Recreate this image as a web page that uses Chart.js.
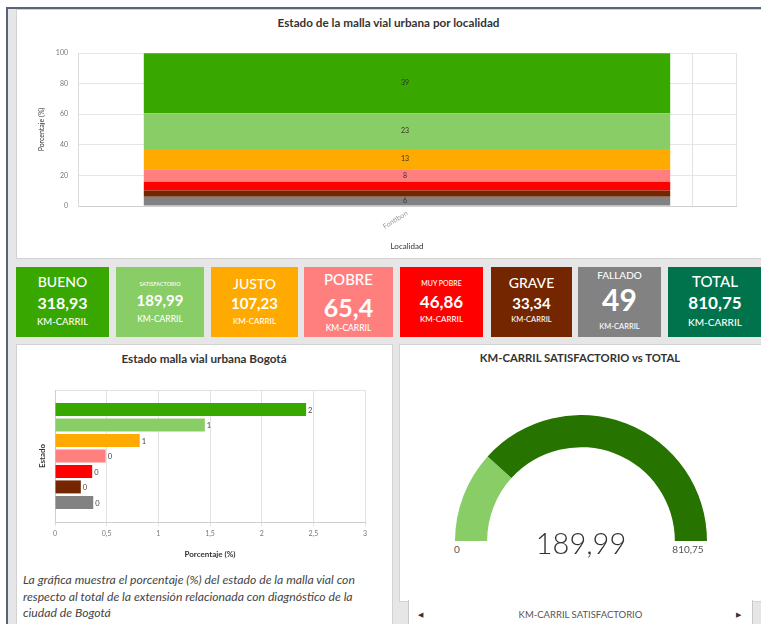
<!DOCTYPE html>
<html>
<head>
<meta charset="utf-8">
<script src="https://cdn.jsdelivr.net/npm/chart.js@4.4.0/dist/chart.umd.min.js"></script>
<style>
html, body { margin: 0; padding: 0; background: #fff; width: 761px; height: 624px; overflow: hidden; font-family: Lato, "Open Sans", sans-serif; }
#marco { position: absolute; left: 6px; top: 7px; width: 760px; height: 620px; background: #e6e6e6; border-top: 2px solid #56647a; border-left: 2px solid #56647a; }
.panel { position: absolute; background: #fff; border: 1px solid #d2d2d2; box-sizing: border-box; }
.titulo { position: absolute; font-weight: bold; font-size: 11.7px; color: #333; text-align: center; white-space: nowrap; line-height: 12px; }
.tarjeta { position: absolute; top: 267px; height: 70px; color: #fff; }
.tarjeta div { position: absolute; left: 0; right: 0; text-align: center; white-space: nowrap; line-height: 1; }
canvas { position: absolute; }
.txt { position: absolute; white-space: nowrap; line-height: 1; }
#nota { position: absolute; left: 23px; top: 572px; font-style: italic; font-size: 12.2px; line-height: 16.5px; color: #444; white-space: nowrap; }
#pestana { position: absolute; left: 408px; top: 600px; width: 345px; height: 30px; background: #fff; border-left: 1px solid #c8c8c8; border-right: 1px solid #c8c8c8; box-sizing: border-box; }
</style>
</head>
<body>
<div id="marco"></div>

<div class="panel" style="left:16px;top:9px;width:746px;height:250px;"></div>
<div class="titulo" style="left:16px;width:745px;top:16px;">Estado de la malla vial urbana por localidad</div>
<canvas id="pilaLocalidad" width="745" height="248" style="left:16px;top:10px;"></canvas>

<div id="tarjetas"></div>

<div class="panel" style="left:16px;top:344px;width:377px;height:290px;"></div>
<div class="titulo" style="left:16px;width:376px;top:352px;">Estado malla vial urbana Bogotá</div>
<canvas id="barrasBogota" width="376" height="220" style="left:16px;top:344px;"></canvas>
<div id="nota">La gráfica muestra el porcentaje (%) del estado de la malla vial con<br>respecto al total de la extensión relacionada con diagnóstico de la<br>ciudad de Bogotá</div>

<div class="panel" style="left:399px;top:344px;width:363px;height:258px;"></div>
<div class="titulo" style="left:399px;width:362px;top:352px;font-size:11.3px;">KM-CARRIL SATISFACTORIO vs TOTAL</div>
<canvas id="medidor" width="252" height="126" style="left:455px;top:415px;"></canvas>
<div class="txt" id="gMin" style="left:437px;width:40px;top:544px;font-size:10px;color:#555;text-align:center;"></div>
<div class="txt" id="gMax" style="left:658px;width:60px;top:544px;font-size:10px;color:#555;text-align:center;"></div>
<div class="txt" id="gValor" style="left:511px;width:140px;top:528px;font-size:29px;font-weight:300;color:#333;text-align:center;"></div>
<div id="pestana">
  <div class="txt" style="left:9px;top:11px;font-size:7px;color:#333;">&#9664;</div>
  <div class="txt" id="pestanaTxt" style="left:0;width:343px;top:10px;font-size:9.5px;color:#555;text-align:center;"></div>
  <div class="txt" style="left:327px;top:11px;font-size:7px;color:#333;">&#9654;</div>
</div>

<script>
// datos
const estados = ['Bueno', 'Satisfactorio', 'Justo', 'Pobre', 'Muy pobre', 'Grave', 'Fallado'];
const etiquetasTarjeta = ['BUENO', 'SATISFACTORIO', 'JUSTO', 'POBRE', 'MUY POBRE', 'GRAVE', 'FALLADO', 'TOTAL'];
const colores = ['#38a800', '#89cd66', '#ffaa00', '#ff7f7f', '#ff0000', '#732600', '#828282'];
const colorTotal = '#00734c';
const kmCarril = [318.93, 189.99, 107.23, 65.4, 46.86, 33.34, 49];
const kmTotal = 810.75;
const unidad = 'KM-CARRIL';
const localidades = ['Fontibon'];
const pctLocalidad = [39.3, 23.4, 13.2, 8.1, 5.8, 4.1, 6.0];
const pctBogota = [2.43, 1.45, 0.82, 0.49, 0.36, 0.25, 0.37];
const ticksPorcentaje = [0, 20, 40, 60, 80, 100];
const ticksBogota = [0, 0.5, 1, 1.5, 2, 2.5, 3];

const coma = v => String(v).replace('.', ',');

// tarjetas: [left, width, tamEtiqueta, tamValor, tamUnidad, yEtiqueta, yValor, yUnidad]
const formaTarjeta = [
  [16, 93, 14, 16, 9.5, 15, 35.5, 55],
  [116, 88, 5.5, 15, 8.5, 17.5, 33.5, 52],
  [211, 87, 14, 15, 8, 16.5, 36.5, 54],
  [304, 89, 15, 25, 8.5, 12, 40, 61],
  [400, 83, 7, 17, 8, 16, 34, 52],
  [491, 81, 14, 15, 7.5, 16, 36.5, 53],
  [578, 83, 10, 30, 7.5, 8, 32, 60],
  [668, 94, 15, 17, 10, 14, 35.5, 54.5]
];
const valoresTarjeta = kmCarril.concat([kmTotal]);
const coloresTarjeta = colores.concat([colorTotal]);
let html = '';
formaTarjeta.forEach((f, i) => {
  const linea = (txt, s, cy, w) => `<div style="top:${cy - s / 2}px;font-size:${s}px;font-weight:${w};">${txt}</div>`;
  html += `<div class="tarjeta" style="left:${f[0]}px;width:${f[1]}px;background:${coloresTarjeta[i]};">` +
    linea(etiquetasTarjeta[i], f[2], f[5], 500) +
    linea(coma(valoresTarjeta[i]), f[3], f[6], 700) +
    linea(unidad, f[4], f[7], 500) + '</div>';
});
document.getElementById('tarjetas').innerHTML = html;

Chart.defaults.font.family = 'Lato, "Open Sans", sans-serif';
Chart.defaults.animation = false;

const etiquetasPila = {
  id: 'etiquetasPila',
  afterDatasetsDraw(chart) {
    const ctx = chart.ctx;
    ctx.save();
    ctx.font = '7px Lato';
    ctx.fillStyle = '#333';
    ctx.textAlign = 'center';
    ctx.textBaseline = 'middle';
    chart.data.datasets.forEach((ds, i) => {
      chart.getDatasetMeta(i).data.forEach((bar, j) => {
        const v = ds.data[j];
        if (v < 6) return;
        ctx.fillText(Math.round(v), bar.x - 2, (bar.y + bar.base) / 2);
      });
    });
    ctx.restore();
  }
};

const lineaExtra = {
  id: 'lineaExtra',
  beforeDatasetsDraw(chart, args, opts) {
    const { ctx, chartArea: a } = chart;
    const x = Math.round(a.left + (a.right - a.left) * opts.fraccion) + 0.5;
    ctx.save();
    ctx.strokeStyle = '#e2e2e2';
    ctx.lineWidth = 1;
    ctx.beginPath();
    ctx.moveTo(x, a.top);
    ctx.lineTo(x, a.bottom);
    ctx.stroke();
    ctx.restore();
  }
};

const etiquetasBarra = {
  id: 'etiquetasBarra',
  afterDatasetsDraw(chart) {
    const ctx = chart.ctx;
    ctx.save();
    ctx.font = '7.5px Lato';
    ctx.fillStyle = '#444';
    ctx.textAlign = 'left';
    ctx.textBaseline = 'middle';
    chart.data.datasets.forEach((ds, i) => {
      chart.getDatasetMeta(i).data.forEach((bar, j) => {
        ctx.fillText(Math.round(ds.data[j]), bar.x + 2, bar.y + 1);
      });
    });
    ctx.restore();
  }
};

// grafico apilado por localidad (de abajo hacia arriba: fallado ... bueno)
const pilas = [];
for (let i = estados.length - 1; i >= 0; i--) {
  pilas.push({
    label: estados[i],
    data: [pctLocalidad[i]],
    backgroundColor: colores[i],
    borderWidth: 0,
    barPercentage: 1,
    categoryPercentage: 0.8
  });
}
new Chart(document.getElementById('pilaLocalidad'), {
  type: 'bar',
  data: { labels: localidades, datasets: pilas },
  options: {
    responsive: false,
    layout: { padding: { top: 43, left: 16, right: 25, bottom: 0 } },
    plugins: { legend: { display: false }, tooltip: { enabled: false }, lineaExtra: { fraccion: 0.933 } },
    scales: {
      x: {
        stacked: true,
        grid: { color: '#e2e2e2', drawTicks: false },
        border: { color: '#cfcfcf' },
        ticks: { font: { size: 7 }, color: '#999', minRotation: 32, maxRotation: 32, padding: 3 },
        title: { display: true, text: 'Localidad', font: { size: 8 }, color: '#333', padding: { top: 0, bottom: 7 } },
        afterFit: s => { s.height = 52; }
      },
      y: {
        stacked: true,
        min: 0,
        max: 100,
        afterBuildTicks: s => { s.ticks = ticksPorcentaje.map(v => ({ value: v })); },
        grid: { color: '#e6e6e6', drawTicks: false },
        border: { color: '#dcdcdc' },
        ticks: { font: { size: 7 }, color: '#777', padding: 10 },
        title: { display: true, text: 'Porcentaje (%)', font: { size: 7 }, color: '#333', padding: { top: 6, bottom: 0 } },
        afterFit: s => { s.width = 46; }
      }
    }
  },
  plugins: [lineaExtra, etiquetasPila]
});

// barras horizontales Bogota
new Chart(document.getElementById('barrasBogota'), {
  type: 'bar',
  data: {
    labels: [''],
    datasets: estados.map((e, i) => ({
      label: e,
      data: [pctBogota[i]],
      backgroundColor: colores[i],
      borderWidth: 0,
      categoryPercentage: 0.82,
      barPercentage: 0.84
    }))
  },
  options: {
    indexAxis: 'y',
    responsive: false,
    layout: { padding: { top: 46, left: 0, right: 27, bottom: 0 } },
    plugins: { legend: { display: false }, tooltip: { enabled: false } },
    scales: {
      x: {
        min: 0,
        max: 3,
        afterBuildTicks: s => { s.ticks = ticksBogota.map(v => ({ value: v })); },
        grid: { color: '#e2e2e2', tickLength: 4 },
        border: { color: '#cfcfcf' },
        ticks: { font: { size: 7 }, color: '#777', padding: 4, callback: v => coma(v) },
        title: { display: true, text: 'Porcentaje (%)', font: { size: 8, weight: 'bold' }, color: '#333', padding: { top: 0, bottom: 5 } },
        afterFit: s => { s.height = 42; }
      },
      y: {
        grid: { color: '#e2e2e2', drawTicks: false },
        border: { color: '#cfcfcf' },
        ticks: { display: false },
        title: { display: true, text: 'Estado', font: { size: 8, weight: 'bold' }, color: '#333', padding: { top: 22, bottom: 0 } },
        afterFit: s => { s.width = 39; }
      }
    }
  },
  plugins: [etiquetasBarra]
});

// medidor satisfactorio vs total
const valorMedidor = kmCarril[1];
new Chart(document.getElementById('medidor'), {
  type: 'doughnut',
  data: {
    labels: ['Satisfactorio', 'Resto'],
    datasets: [{ data: [valorMedidor, kmTotal - valorMedidor], backgroundColor: [colores[1], '#267300'], borderWidth: 0 }]
  },
  options: {
    responsive: false,
    rotation: -90,
    circumference: 180,
    cutout: '74.5%',
    layout: { padding: 0 },
    plugins: { legend: { display: false }, tooltip: { enabled: false } }
  }
});
document.getElementById('gMin').textContent = '0';
document.getElementById('gMax').textContent = coma(kmTotal);
document.getElementById('gValor').textContent = coma(valorMedidor);
document.getElementById('pestanaTxt').textContent = unidad + ' ' + etiquetasTarjeta[1];
</script>
</body>
</html>
